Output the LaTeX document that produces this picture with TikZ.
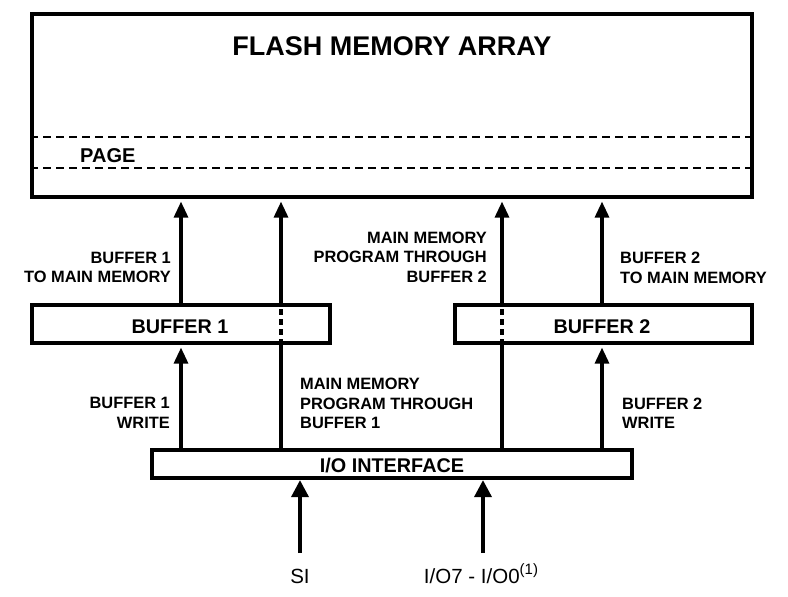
\documentclass[tikz,border=0pt]{standalone}
\usepackage{fontspec}
\setmainfont{Liberation Sans}
\usetikzlibrary{arrows.meta}
\begin{document}
\begin{tikzpicture}[x=1pt,y=-1pt,
  box/.style={draw,line width=3.2pt,inner sep=0pt},
  arr/.style={line width=3.2pt,-{Triangle[width=14pt,length=16pt]},shorten >=3pt},
  bigarr/.style={line width=3.6pt,-{Triangle[width=17pt,length=17pt]},shorten >=0.5pt},
  solidline/.style={line width=3.2pt},
  dashline/.style={line width=3.2pt,dash pattern=on 6pt off 4pt},
  pageline/.style={line width=2.6pt,dash pattern=on 8pt off 5pt},
  lbl/.style={font=\bfseries\fontsize{16.4}{19.5}\selectfont,inner sep=0pt},
  boxtext/.style={font=\bfseries\fontsize{19.8}{22}\selectfont,inner sep=0pt},
  pintext/.style={font=\fontsize{20.5}{24}\selectfont,inner sep=0pt,anchor=base}]
\useasboundingbox (0,0) rectangle (788,597);
% boxes
\node[box,minimum width=720pt,minimum height=183pt] (array) at (392,105.5) {};
\node[font=\bfseries\fontsize{27}{30}\selectfont,inner sep=0pt] (title) at (392,46) {FLASH MEMORY ARRAY};
\coordinate (pa) at (0,137);
\coordinate (pb) at (0,168);
\draw[pageline] (array.west |- pa) -- (array.east |- pa);
\draw[pageline] (array.west |- pb) -- (array.east |- pb);
\node[font=\bfseries\fontsize{20}{22}\selectfont,inner sep=0pt,anchor=west] (page) at (80,156) {PAGE};
\node[box,minimum width=298pt,minimum height=38pt] (buf1) at (181,324) {};
\node[boxtext] (buf1t) at (180,327) {BUFFER 1};
\node[box,minimum width=297pt,minimum height=38pt] (buf2) at (603.5,324) {};
\node[boxtext] (buf2t) at (602,327) {BUFFER 2};
\node[box,minimum width=480pt,minimum height=28pt] (io) at (392,464) {};
\node[boxtext] (iot) at (392,466) {I/O INTERFACE};
% x positions
\coordinate (xa) at (181,0);
\coordinate (xb) at (281,0);
\coordinate (xc) at (502,0);
\coordinate (xd) at (602,0);
% arrows upper
\draw[arr] (buf1.north -| xa) -- (array.south -| xa);
\draw[arr] (buf2.north -| xd) -- (array.south -| xd);
\draw[arr] (io.north -| xa) -- (buf1.south -| xa);
\draw[arr] (io.north -| xd) -- (buf2.south -| xd);
\draw[solidline] (io.north -| xb) -- (buf1.south -| xb);
\draw[dashline] (buf1.south -| xb) -- (buf1.north -| xb);
\draw[arr] (buf1.north -| xb) -- (array.south -| xb);
\draw[solidline] (io.north -| xc) -- (buf2.south -| xc);
\draw[dashline] (buf2.south -| xc) -- (buf2.north -| xc);
\draw[arr] (buf2.north -| xc) -- (array.south -| xc);
% labels
\node[lbl,align=right,anchor=north east] (l1) at (171,252) {BUFFER 1\\TO MAIN MEMORY};
\node[lbl,align=right,anchor=north east] (l2) at (487,231.5) {MAIN MEMORY\\PROGRAM THROUGH\\BUFFER 2};
\node[lbl,align=left,anchor=north west] (l3) at (620,252) {BUFFER 2\\TO MAIN MEMORY};
\node[lbl,align=right,anchor=north east] (l4) at (170,397.5) {BUFFER 1\\WRITE};
\node[lbl,align=left,anchor=north west] (l5) at (300,378) {MAIN MEMORY\\PROGRAM THROUGH\\BUFFER 1};
\node[lbl,align=left,anchor=north west] (l6) at (622,397.5) {BUFFER 2\\WRITE};
% inputs
\node[pintext] (si) at (300,583) {SI};
\node[pintext] (iop) at (481,583) {I/O7 - I/O0\raisebox{8.5pt}{\fontsize{15}{17}\selectfont(1)}};
\coordinate (sib) at (300,553);
\coordinate (iob) at (483,553);
\draw[bigarr] (sib) -- (io.south -| sib);
\draw[bigarr] (iob) -- (io.south -| iob);
\end{tikzpicture}
\end{document}
